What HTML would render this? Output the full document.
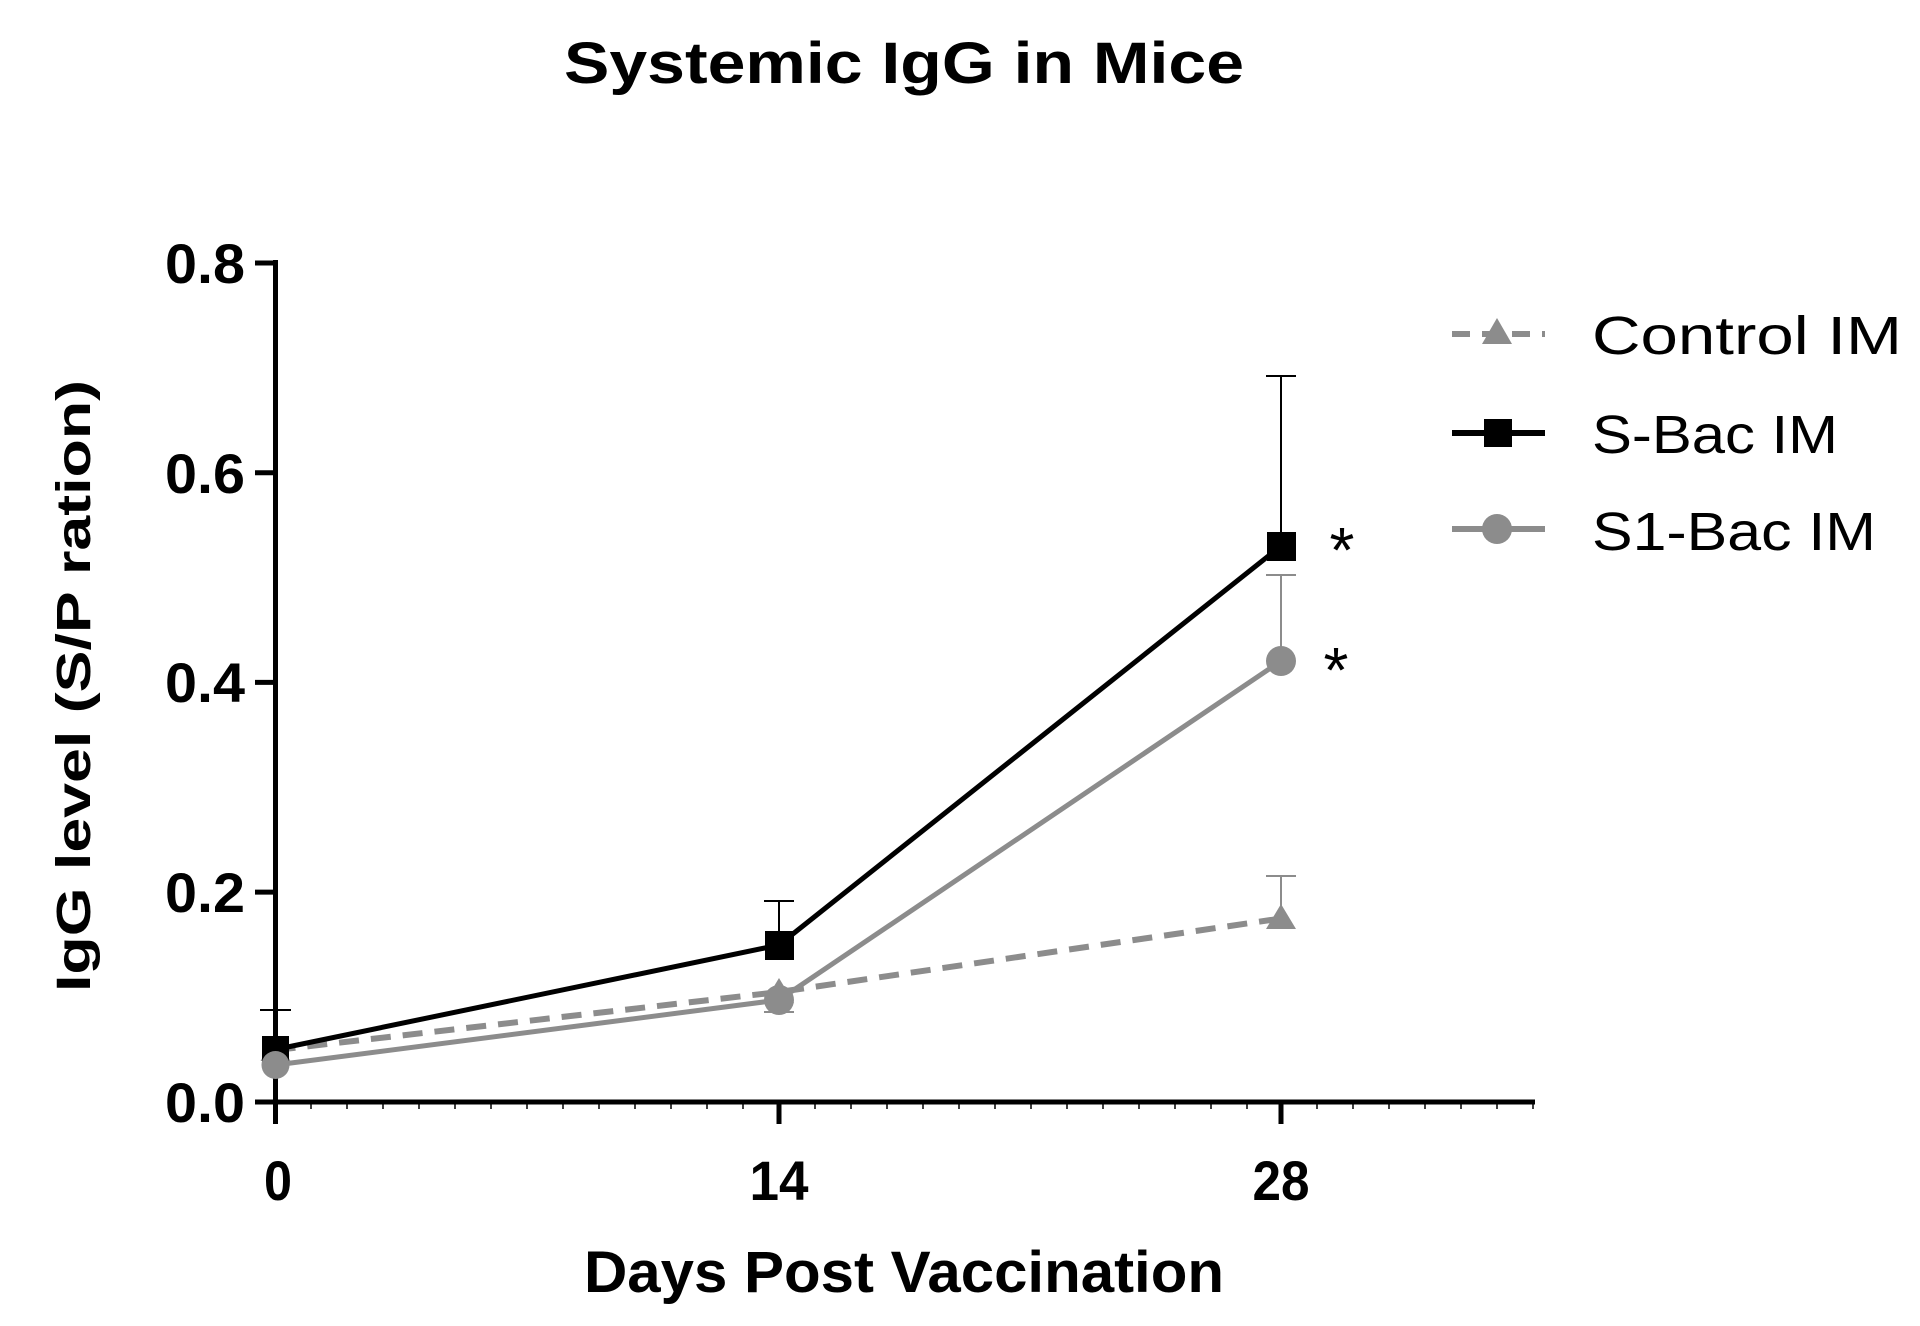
<!DOCTYPE html>
<html><head><style>body{margin:0;background:#fff}svg{display:block}</style></head><body>
<svg width="1920" height="1326" viewBox="0 0 1920 1326" xmlns="http://www.w3.org/2000/svg" font-family="Liberation Sans, sans-serif">
<rect width="1920" height="1326" fill="#fff"/>
<text x="904" y="83" font-size="58" font-weight="bold" text-anchor="middle" textLength="680" lengthAdjust="spacingAndGlyphs">Systemic IgG in Mice</text>
<line x1="275.5" y1="260" x2="275.5" y2="1104" stroke="#000" stroke-width="5"/>
<line x1="273" y1="1102" x2="1535" y2="1102" stroke="#000" stroke-width="5"/>
<g stroke="#000" stroke-width="5">
<line x1="255" y1="263" x2="276" y2="263"/><line x1="255" y1="472.7" x2="276" y2="472.7"/><line x1="255" y1="682.4" x2="276" y2="682.4"/><line x1="255" y1="892.1" x2="276" y2="892.1"/><line x1="255" y1="1102" x2="276" y2="1102"/>
<line x1="275.5" y1="1102" x2="275.5" y2="1124"/><line x1="779" y1="1102" x2="779" y2="1124"/><line x1="1281" y1="1102" x2="1281" y2="1124"/>
</g>
<g stroke="#000" stroke-width="1.5">
<path d="M311 1102v7M347 1102v7M383 1102v7M419 1102v7M455 1102v7M491 1102v7M527 1102v7M563 1102v7M599 1102v7M635 1102v7M671 1102v7M707 1102v7M743 1102v7M815 1102v7M851 1102v7M887 1102v7M923 1102v7M959 1102v7M995 1102v7M1031 1102v7M1067 1102v7M1103 1102v7M1139 1102v7M1175 1102v7M1211 1102v7M1247 1102v7M1317 1102v7M1353 1102v7M1389 1102v7M1425 1102v7M1461 1102v7M1497 1102v7M1533 1102v7"/>
</g>
<g font-size="56" font-weight="bold" text-anchor="end">
<text x="245" y="283" textLength="80" lengthAdjust="spacingAndGlyphs">0.8</text><text x="245" y="493" textLength="80" lengthAdjust="spacingAndGlyphs">0.6</text><text x="245" y="702" textLength="80" lengthAdjust="spacingAndGlyphs">0.4</text><text x="245" y="912" textLength="80" lengthAdjust="spacingAndGlyphs">0.2</text><text x="245" y="1122" textLength="80" lengthAdjust="spacingAndGlyphs">0.0</text>
</g>
<g font-size="56" font-weight="bold" text-anchor="middle">
<text x="278" y="1200" textLength="28" lengthAdjust="spacingAndGlyphs">0</text><text x="779" y="1200" textLength="59" lengthAdjust="spacingAndGlyphs">14</text><text x="1281" y="1200" textLength="57" lengthAdjust="spacingAndGlyphs">28</text>
</g>
<text x="904" y="1292" font-size="58" font-weight="bold" text-anchor="middle" textLength="640" lengthAdjust="spacingAndGlyphs">Days Post Vaccination</text>
<text transform="translate(90,686) rotate(-90)" font-size="48" font-weight="bold" text-anchor="middle" textLength="612" lengthAdjust="spacingAndGlyphs">IgG level (S/P ration)</text>
<g stroke="#000" stroke-width="2">
<path d="M275.5 1050v-40M260 1010h31M779 943v-42M764 901h30M1281 546v-170M1266 376h30"/>
</g>
<g stroke="#8c8c8c" stroke-width="2">
<path d="M1281 920v-44M1266 876h30M1281 660v-85M1266 575h30M779 1000v12M764 1012h30"/>
</g>
<polyline points="275.5,1050 779,992 1281,918.5" fill="none" stroke="#8c8c8c" stroke-width="6" stroke-dasharray="20,12"/>
<g fill="#8c8c8c"><path d="M275.5 1036l15 25h-30z"/><path d="M779 978l15 25h-30z"/><path d="M1281 904l15 25h-30z"/></g>
<polyline points="275.5,1049.5 779,945 1281,546" fill="none" stroke="#000" stroke-width="5"/>
<g fill="#000"><rect x="262" y="1036" width="27" height="27"/><rect x="765" y="931" width="29" height="29"/><rect x="1267" y="532" width="29" height="29"/></g>
<polyline points="275.5,1065 779,1000 1281,661" fill="none" stroke="#8c8c8c" stroke-width="5"/>
<g fill="#8c8c8c"><circle cx="275.5" cy="1065" r="14"/><circle cx="779" cy="1000" r="15"/><circle cx="1281" cy="661" r="15"/></g>
<g font-size="64" text-anchor="middle"><text x="1342" y="572">*</text><text x="1336" y="692">*</text></g>
<line x1="1452" y1="334" x2="1545" y2="334" stroke="#8c8c8c" stroke-width="6" stroke-dasharray="18,12"/>
<path d="M1497 318l15 26h-30z" fill="#8c8c8c"/>
<line x1="1452" y1="433" x2="1545" y2="433" stroke="#000" stroke-width="6"/>
<rect x="1484" y="419" width="28" height="28" fill="#000"/>
<line x1="1452" y1="529" x2="1545" y2="529" stroke="#8c8c8c" stroke-width="6"/>
<circle cx="1497" cy="529" r="15" fill="#8c8c8c"/>
<g font-size="54">
<text x="1592" y="354" textLength="310" lengthAdjust="spacingAndGlyphs">Control IM</text>
<text x="1592" y="453" textLength="246" lengthAdjust="spacingAndGlyphs">S-Bac IM</text>
<text x="1592" y="550" textLength="284" lengthAdjust="spacingAndGlyphs">S1-Bac IM</text>
</g>
</svg>
</body></html>
